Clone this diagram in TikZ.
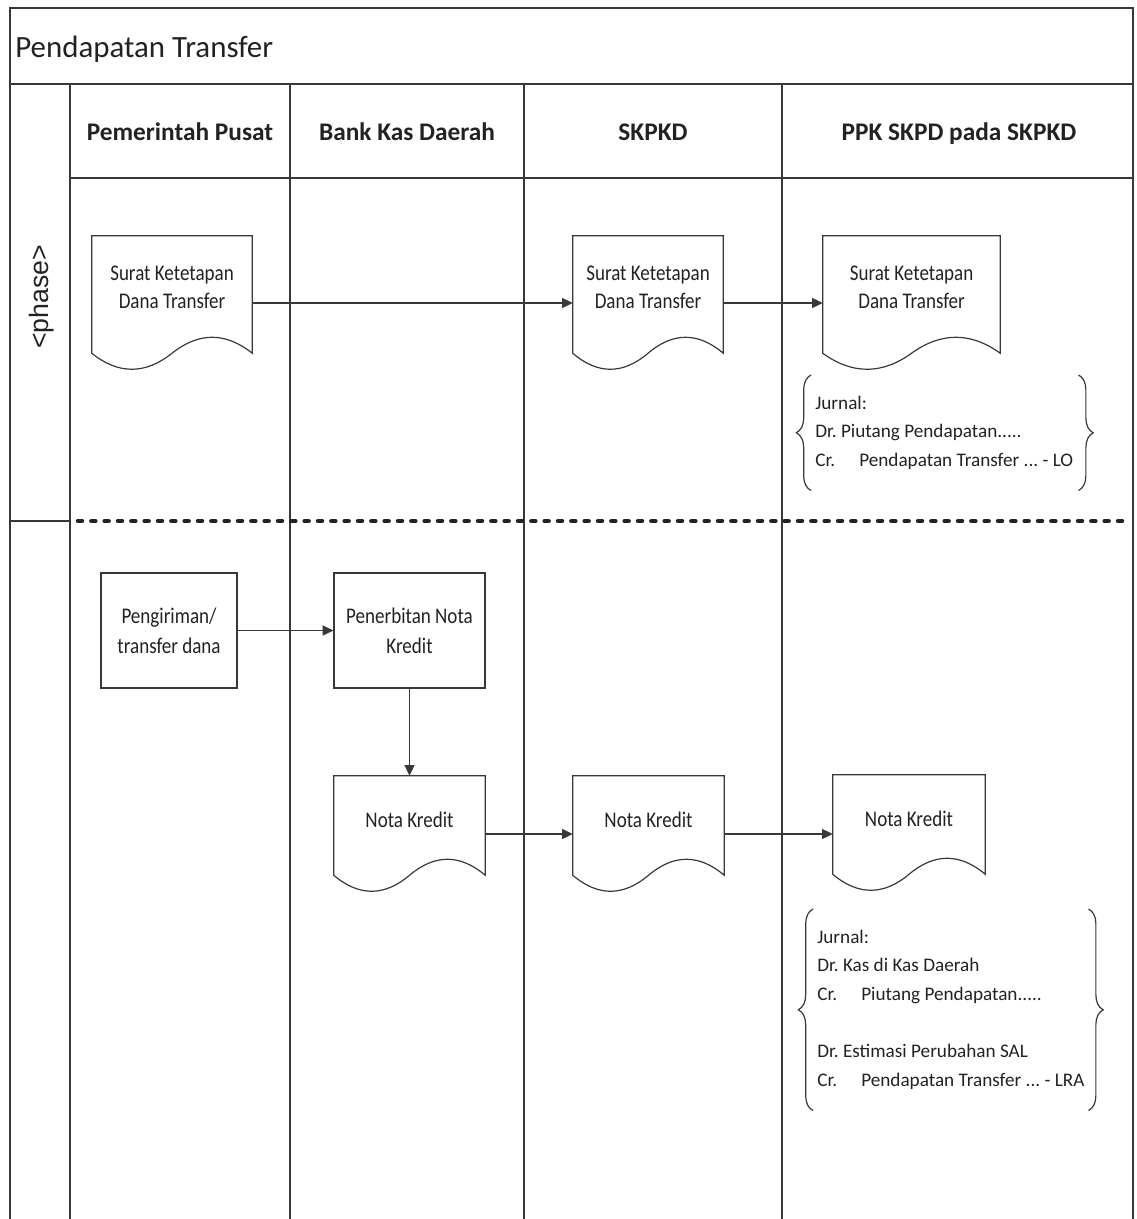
\documentclass[tikz,border=0pt]{standalone}
\usepackage{fontspec}
\setmainfont{Carlito}
\newfontfamily\narrowfont[FakeStretch=0.85]{Carlito}
\newfontfamily\phasefont{Liberation Sans}
\usetikzlibrary{arrows.meta,decorations.pathreplacing,calc}
\definecolor{ink}{HTML}{222222}
\definecolor{rule}{HTML}{383838}
\frenchspacing

% outline of a flowchart "document": body down to the wave, wave below
\newcommand\docoutline[1]{%
  \draw[shapeline] let \p1=(#1.south west), \p2=(#1.north east),
      \n1={\y1+12.75pt}, \n2={\x2-\x1} in
    (\x1,\n1) -- (\x1,\y2) -- (\x2,\y2) -- (\x2,\n1)
    .. controls (\x2-\n2/6,\n1+16pt) and (\x2-\n2/3,\n1+16pt) .. (\x1+\n2/2,\n1)
    .. controls (\x1+\n2/3,\n1-16pt) and (\x1+\n2/6,\n1-16pt) .. cycle;}

\begin{document}
\begin{tikzpicture}[x=0.75pt,y=-0.75pt,
  lane/.style={draw=rule, line width=1pt},
  shapeline/.style={draw=rule, line width=0.9pt},
  flow/.style={draw=rule, line width=0.9pt, -{Triangle[length=8pt,width=7.5pt]}},
  headtext/.style={font=\bfseries\fontsize{19}{23}\selectfont, text=ink, anchor=base, inner sep=0pt},
  docbox/.style={rectangle, inner sep=0pt},
  doclabel/.style={align=center, font=\narrowfont\fontsize{16.8}{21}\selectfont, text=ink, yshift=11.5pt},
  procbox/.style={draw=rule, line width=0.9pt, rectangle, inner sep=0pt, align=center,
                  font=\narrowfont\fontsize{16.8}{22.5}\selectfont, text=ink, minimum height=86.25pt},
  journal/.style={anchor=north west, inner xsep=3pt, inner ysep=0pt, align=flush left,
                  font=\fontsize{14.4}{21.5}\selectfont, text=ink},
  jbrace/.style={draw=rule, line width=0.9pt, decorate, decoration={brace, amplitude=11pt}},
  sep/.style={draw=ink, line width=3.4pt, line cap=round, dash pattern=on 3pt off 7pt}
]
\useasboundingbox (0,0) rectangle (1137,1219);

% pool frame, title band, phase column and lanes
\draw[lane] (10,1219) -- (10,8) -- (1133,8) -- (1133,1219);
\draw[lane] (10,84) -- (1133,84);
\draw[lane] (70,84) -- (70,1219);
\draw[lane] (70,178) -- (1133,178);
\foreach \lx in {290,524,782} \draw[lane] (\lx,84) -- (\lx,1219);
\draw[lane] (10,521) -- (70,521);
\draw[sep] (78,521) -- (1131,521);

% title, phase and lane headers
\node[anchor=base west, inner sep=0pt, font=\fontsize{23.2}{27}\selectfont, text=ink] (title) at (15,58) {Pendapatan Transfer};
\node[rotate=90, inner sep=0pt, font=\phasefont\fontsize{20}{24}\selectfont, text=ink] (phase) at (42,297) {<phase>};
\node[headtext] (h1) at (180,141) {Pemerintah Pusat};
\node[headtext] (h2) at (407,141) {Bank Kas Daerah};
\node[headtext] (h3) at (653,141) {SKPKD};
\node[headtext] (h4) at (959,141) {PPK SKPD pada SKPKD};

% first phase: transfer decision
\node[docbox, minimum width=120pt, minimum height=100.5pt,
      label={[doclabel]center:{Surat Ketetapan\\Dana Transfer}}] (d1) at (172,303) {};
\node[docbox, minimum width=112.5pt, minimum height=100.5pt,
      label={[doclabel]center:{Surat Ketetapan\\Dana Transfer}}] (d2) at (648,303) {};
\node[docbox, minimum width=132.75pt, minimum height=100.5pt,
      label={[doclabel]center:{Surat Ketetapan\\Dana Transfer}}] (d3) at (911.5,303) {};
\docoutline{d1}
\docoutline{d2}
\docoutline{d3}
\draw[flow] (d1.east) -- (d2.west);
\draw[flow] (d2.east) -- (d3.west);

\node[journal, text width=194.25pt, minimum height=86.25pt] (j1) at (811,375)
  {Jurnal:\\
   Dr. Piutang Pendapatan.....\\
   \mbox{\makebox[33pt][l]{Cr.}Pendapatan Transfer ... - LO}};
\draw[jbrace] (j1.south west) -- (j1.north west);
\draw[jbrace] (j1.north east) -- (j1.south east);

% second phase: transfer of funds
\node[procbox, minimum width=102pt] (p1) at (169,630.5) {Pengiriman/\\transfer dana};
\node[procbox, minimum width=113.25pt] (p2) at (409.5,630.5) {Penerbitan Nota\\Kredit};
\draw[flow] (p1.east) -- (p2.west);

\node[docbox, minimum width=113.25pt, minimum height=87pt,
      label={[doclabel, yshift=-1pt]center:Nota Kredit}] (n1) at (409.5,834) {};
\node[docbox, minimum width=113.25pt, minimum height=87pt,
      label={[doclabel, yshift=-1pt]center:Nota Kredit}] (n2) at (648.5,834) {};
\node[docbox, minimum width=114pt, minimum height=87pt,
      label={[doclabel, yshift=-1pt]center:Nota Kredit}] (n3) at (909,833) {};
\docoutline{n1}
\docoutline{n2}
\docoutline{n3}
\draw[flow] (p2.south) -- (n1.north);
\draw[flow] (n1.east) -- (n2.west);
\draw[flow] (n2.east) -- (n2.east -| n3.west);

\node[journal, text width=200.25pt, minimum height=150.75pt] (j2) at (813,909)
  {Jurnal:\\
   Dr. Kas di Kas Daerah\\
   \makebox[33pt][l]{Cr.}Piutang Pendapatan.....\\
   \mbox{}\\
   Dr. Estimasi Perubahan SAL\\
   \mbox{\makebox[33pt][l]{Cr.}Pendapatan Transfer ... - LRA}};
\draw[jbrace] (j2.south west) -- (j2.north west);
\draw[jbrace] (j2.north east) -- (j2.south east);
\end{tikzpicture}
\end{document}
